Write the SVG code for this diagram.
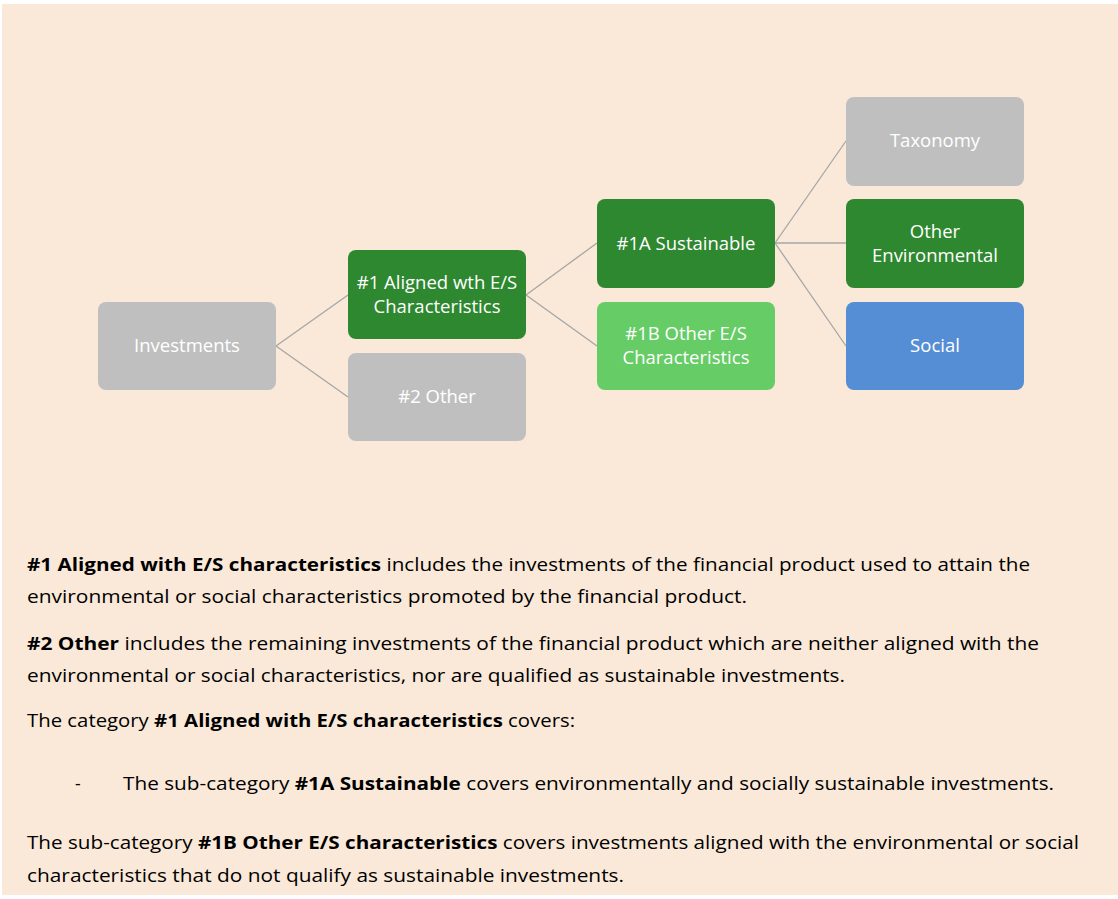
<svg xmlns="http://www.w3.org/2000/svg" width="1118" height="899" viewBox="0 0 1118 899">
<style>
.node rect{rx:8;ry:8}
.gray{fill:#BFBFBF}
.dg{fill:#2E882F}
.lg{fill:#66CC66}
.blue{fill:#558ED5}
.nt{font-family:"Open Sans","Liberation Sans",sans-serif;font-size:18.5px;fill:#FFFFFF;text-anchor:middle}
.conn line{stroke:#A6A6A6;stroke-width:1.3}
.body{font-family:"Open Sans","Liberation Sans",sans-serif;font-size:17.5px;fill:#000000}
.b{font-weight:700}
</style>
<rect x="0" y="0" width="1118" height="899" fill="#FFFFFF"/>
<rect x="2" y="4" width="1116" height="891" fill="#FAE9D8"/>
<g id="connectors" class="conn">
<line x1="276" y1="346" x2="348" y2="295"/>
<line x1="276" y1="346" x2="348" y2="397"/>
<line x1="526" y1="295" x2="597" y2="243"/>
<line x1="526" y1="295" x2="597" y2="346"/>
<line x1="775" y1="243" x2="846" y2="141"/>
<line x1="775" y1="243" x2="846" y2="243"/>
<line x1="775" y1="243" x2="846" y2="346"/>
</g>
<g id="investments" class="node"><rect class="gray" x="98" y="302" width="178" height="88"/><text class="nt" x="187" y="352">Investments</text></g>
<g id="aligned" class="node"><rect class="dg" x="348" y="250" width="178" height="89"/><text class="nt" x="437" y="289">#1 Aligned wth E/S</text><text class="nt" x="437" y="313">Characteristics</text></g>
<g id="other2" class="node"><rect class="gray" x="348" y="353" width="178" height="88"/><text class="nt" x="437" y="403">#2 Other</text></g>
<g id="sustainable" class="node"><rect class="dg" x="597" y="199" width="178" height="89"/><text class="nt" x="686" y="250">#1A Sustainable</text></g>
<g id="other1b" class="node"><rect class="lg" x="597" y="302" width="178" height="88"/><text class="nt" x="686" y="340">#1B Other E/S</text><text class="nt" x="686" y="364">Characteristics</text></g>
<g id="taxonomy" class="node"><rect class="gray" x="846" y="97" width="178" height="89"/><text class="nt" x="935" y="147">Taxonomy</text></g>
<g id="otherenv" class="node"><rect class="dg" x="846" y="199" width="178" height="89"/><text class="nt" x="935" y="238">Other</text><text class="nt" x="935" y="262">Environmental</text></g>
<g id="social" class="node"><rect class="blue" x="846" y="302" width="178" height="88"/><text class="nt" x="935" y="352">Social</text></g>
<g id="description">
<text class="body" x="27" y="571" textLength="1003" lengthAdjust="spacingAndGlyphs"><tspan class="b">#1 Aligned with E/S characteristics</tspan> includes the investments of the financial product used to attain the</text>
<text class="body" x="27" y="603" textLength="720" lengthAdjust="spacingAndGlyphs">environmental or social characteristics promoted by the financial product.</text>
<text class="body" x="27" y="650" textLength="1012" lengthAdjust="spacingAndGlyphs"><tspan class="b">#2 Other</tspan> includes the remaining investments of the financial product which are neither aligned with the</text>
<text class="body" x="27" y="682" textLength="818" lengthAdjust="spacingAndGlyphs">environmental or social characteristics, nor are qualified as sustainable investments.</text>
<text class="body" x="27" y="727" textLength="548" lengthAdjust="spacingAndGlyphs">The category <tspan class="b">#1 Aligned with E/S characteristics</tspan> covers:</text>
<text class="body" x="75" y="790">-</text>
<text class="body" x="123" y="790" textLength="931" lengthAdjust="spacingAndGlyphs">The sub-category <tspan class="b">#1A Sustainable</tspan> covers environmentally and socially sustainable investments.</text>
<text class="body" x="27" y="849" textLength="1052" lengthAdjust="spacingAndGlyphs">The sub-category <tspan class="b">#1B Other E/S characteristics</tspan> covers investments aligned with the environmental or social</text>
<text class="body" x="27" y="882" textLength="597" lengthAdjust="spacingAndGlyphs">characteristics that do not qualify as sustainable investments.</text>
</g>
</svg>
